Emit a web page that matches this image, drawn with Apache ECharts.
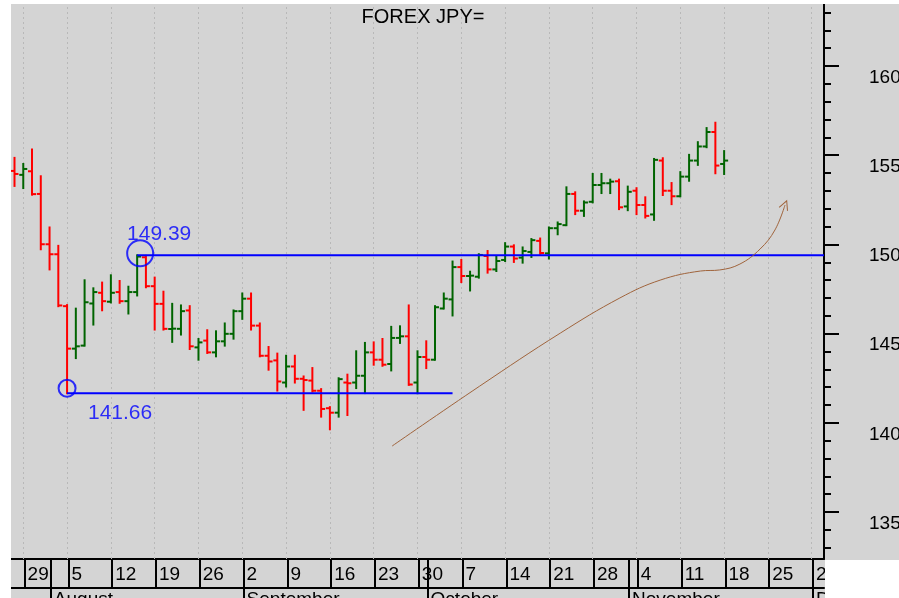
<!DOCTYPE html>
<html>
<head>
<meta charset="utf-8">
<script src="https://cdn.jsdelivr.net/npm/echarts@6/dist/echarts.min.js"></script>
<style>html,body{margin:0;padding:0;background:#fff}#c{width:899px;height:598px}</style>
</head>
<body>
<div id="c"></div>
<script>
// Trading days (index 0 = 2024-07-26, weekdays only)
var startDate = '2024-07-26';
var dayCount = 82;
// OHLC values
var opens  = [154.12,153.90,154.10,152.83,150.01,149.45,146.54,144.16,144.33,146.69,147.29,146.79,147.33,146.82,147.33,149.28,147.66,146.67,145.26,145.27,146.30,144.23,144.61,143.95,144.57,144.99,146.26,146.96,145.45,143.76,143.50,142.26,143.16,142.47,142.37,141.80,140.82,140.57,142.26,142.26,142.64,143.95,143.54,143.30,144.76,144.85,142.26,143.69,143.54,146.41,146.92,148.73,148.23,148.19,149.35,148.60,149.13,149.88,149.26,149.58,150.20,149.50,150.91,151.08,152.83,151.89,152.39,153.33,153.43,153.54,152.13,153.01,152.21,151.68,154.70,153.01,152.70,153.80,154.70,155.49,156.30,154.51];
var highs  = [154.85,154.51,155.32,153.82,150.95,149.92,146.60,146.40,147.99,147.54,147.86,148.27,147.95,147.63,149.39,149.36,148.14,147.35,146.67,146.58,146.54,144.70,145.19,145.13,145.57,146.30,147.25,147.25,145.57,144.25,143.88,143.76,143.76,142.60,143.07,141.89,140.88,142.50,142.70,144.01,144.48,144.51,144.70,145.38,145.41,146.58,144.01,144.57,146.54,147.25,149.04,149.13,148.47,149.45,149.63,149.35,150.07,149.95,149.83,150.30,150.33,150.95,151.23,153.20,152.92,152.41,153.95,153.95,153.63,153.63,153.24,153.15,152.64,154.79,154.83,153.44,154.05,155.02,155.73,156.52,156.82,155.23];
var lows   = [153.28,153.16,152.79,149.73,148.60,146.54,141.66,143.63,144.33,145.51,146.31,146.75,146.73,146.13,147.14,147.60,145.23,145.23,144.54,144.95,144.14,143.54,143.92,143.73,144.33,144.72,145.83,145.23,143.73,142.98,141.81,142.04,142.26,140.73,141.76,140.35,139.64,140.35,140.44,141.95,141.67,143.26,143.20,142.94,144.48,142.13,141.66,143.07,143.54,146.41,146.02,147.89,147.42,148.14,148.42,148.51,149.07,149.02,148.98,149.30,149.48,149.21,150.57,151.08,151.70,151.60,152.36,152.88,152.88,151.98,151.92,151.70,151.51,151.38,152.77,152.26,152.70,153.57,154.46,155.45,153.99,153.95];
var closes = [153.95,154.23,152.82,150.01,149.45,146.58,144.16,144.29,146.76,147.33,146.82,147.29,146.82,147.33,149.32,147.66,146.67,145.27,145.28,146.26,144.29,144.51,143.95,144.57,144.99,146.26,146.96,145.45,143.76,143.44,142.32,143.16,142.47,142.40,141.80,140.78,140.57,142.45,142.22,142.64,143.95,143.54,143.26,144.76,144.85,142.15,143.69,143.54,146.48,146.96,148.73,148.23,148.25,149.41,148.60,149.07,149.88,149.21,149.63,150.24,149.52,150.91,151.14,152.83,151.89,152.35,153.33,153.43,153.52,152.08,152.95,152.21,151.60,154.74,153.01,152.70,153.80,154.70,155.49,156.30,154.42,154.70];

// Axis labels
var weekIdx    = [1,6,11,16,21,26,31,36,41,46,51,56,61,66,71,76,81,86,91];
var weekLabels = ['29','5','12','19','26','2','9','16','23','30','7','14','21','28','4','11','18','25','2'];
var monthIdx    = [4,26,47,70,91];
var monthLabels = ['August','September','October','November','December'];
var yMajor = [135,140,145,150,155,160];
var yMinor = [133,134,136,137,138,139,141,142,143,144,146,147,148,149,151,152,153,154,156,157,158,159,161,162,163];

// Annotations
var levelValues = [149.39, 141.66];
var levelStart  = [14, 6];
var levelEnd    = [92.4, 50];
var trendIdx = [43.1,53.1,62.3,69.1,73.7,78.3,80.5,82.8,85.1,86.8,87.95];
var trendVal = [138.70,142.06,145.03,147.00,148.00,148.51,148.57,148.90,149.74,150.81,152.21];

// build category dates
var dates = [];
(function(){var d=new Date(startDate+'T12:00:00Z');while(dates.length<dayCount){var w=d.getUTCDay();if(w!==0&&w!==6)dates.push(d.toISOString().slice(0,10));d.setUTCDate(d.getUTCDate()+1);}})();

var ohlc = dates.map(function(dt,i){return [i,opens[i],highs[i],lows[i],closes[i]];});
var RED='#ff0000', GREEN='#006400', BLUE='#0000ff', BROWN='#a0643c';
var FONT='Arial, "Liberation Sans", sans-serif';
var XMIN=-0.4, XMAX=92.4, YMIN=132.37, YMAX=163.475;

function renderItem(params, api){
  var x=api.value(0),o=api.value(1),h=api.value(2),l=api.value(3),c=api.value(4);
  var pH=api.coord([x,h]),pL=api.coord([x,l]),pO=api.coord([x,o]),pC=api.coord([x,c]);
  var col=c>=o?GREEN:RED;
  var st={stroke:col,lineWidth:2};
  return {type:'group',children:[
    {type:'line',shape:{x1:pH[0],y1:pH[1]-1,x2:pL[0],y2:pL[1]+1},style:st},
    {type:'line',shape:{x1:pO[0]-4,y1:pO[1],x2:pO[0],y2:pO[1]},style:st},
    {type:'line',shape:{x1:pC[0],y1:pC[1],x2:pC[0]+4,y2:pC[1]},style:st}
  ]};
}

var trendData = trendIdx.map(function(v,i){return [v,trendVal[i]];});
var last = trendData.length-1;
trendData[last] = {value: trendData[last], symbol:'path://M0,10 L5,0 L10,10', symbolSize:[9,9], symbolRotate:-22,
  itemStyle:{color:'transparent',borderColor:BROWN,borderWidth:1}};

var chart = echarts.init(document.getElementById('c'), null, {renderer:'canvas'});
chart.setOption({
  animation:false,
  backgroundColor:'#d4d4d4',
  textStyle:{fontFamily:FONT},
  title:{text:'FOREX JPY=',left:418,top:2,textAlign:'center',textStyle:{fontFamily:FONT,fontSize:20,fontWeight:'normal',color:'#000'}},
  grid:{left:11,right:75,top:4,bottom:39,containLabel:false,outerBoundsMode:'none'},
  xAxis:[{
    type:'value',min:XMIN,max:XMAX,position:'bottom',
    axisLine:{show:true,onZero:false,lineStyle:{color:'#000',width:2}},
    axisTick:{show:true,inside:false,length:29,customValues:weekIdx.concat(monthIdx).map(function(v){return v+0.15;}),lineStyle:{color:'#000',width:2}},
    axisLabel:{show:true,customValues:weekIdx.map(function(v){return v+0.15;}),margin:6,align:'left',padding:[0,0,0,3],
      fontFamily:FONT,fontSize:19,color:'#000',
      formatter:function(v){var k=weekIdx.indexOf(Math.round(v-0.15));return k>=0?weekLabels[k]:'';}},
    splitLine:{show:false}
  },{
    type:'value',min:XMIN,max:XMAX,position:'bottom',offset:29,
    axisLine:{show:true,onZero:false,lineStyle:{color:'#000',width:2}},
    axisTick:{show:true,inside:false,length:14,customValues:monthIdx.map(function(v){return v+0.15;}),lineStyle:{color:'#000',width:2}},
    axisLabel:{show:true,customValues:monthIdx.map(function(v){return v+0.15;}),margin:2,align:'left',padding:[0,0,0,3],
      fontFamily:FONT,fontSize:19,color:'#000',
      formatter:function(v){var k=monthIdx.indexOf(Math.round(v-0.15));return k>=0?monthLabels[k]:'';}},
    splitLine:{show:false}
  }],
  yAxis:[{
    type:'value',min:YMIN,max:YMAX,position:'right',
    axisLine:{show:true,onZero:false,lineStyle:{color:'#000',width:2}},
    axisTick:{show:true,inside:false,length:15,customValues:yMajor,lineStyle:{color:'#000',width:2}},
    axisLabel:{show:true,customValues:yMajor,margin:45,align:'left',verticalAlign:'top',padding:[2,0,0,0],
      fontFamily:FONT,fontSize:19,color:'#000'},
    splitLine:{show:false}
  },{
    type:'value',min:YMIN,max:YMAX,position:'right',offset:0,
    axisLine:{show:false,onZero:false},
    axisTick:{show:true,inside:false,length:7,customValues:yMinor,lineStyle:{color:'#000',width:2}},
    axisLabel:{show:false},
    splitLine:{show:false}
  }],
  graphic:[
    {type:'rect',shape:{x:0,y:0,width:11,height:598},style:{fill:'#ffffff'},z:100,silent:true},
    {type:'rect',shape:{x:0,y:0,width:899,height:4},style:{fill:'#ffffff'},z:100,silent:true},
    {type:'rect',shape:{x:825,y:560,width:74,height:38},style:{fill:'#ffffff'},z:100,silent:true}
  ],
  series:[
    {type:'line',name:'grid',data:[],xAxisIndex:0,yAxisIndex:0,silent:true,
      markLine:{silent:true,symbol:['none','none'],label:{show:false},animation:false,
        lineStyle:{color:'#b8b8b8',width:1,type:[2,3]},
        data:weekIdx.map(function(v){return {xAxis:v};})}},
    {type:'custom',name:'JPY=',renderItem:renderItem,data:ohlc,encode:{x:0,y:[1,2,3,4]},z:5},
    {type:'line',name:'lvl1',data:[[levelStart[0],levelValues[0]],[levelEnd[0],levelValues[0]]],symbol:'none',
      lineStyle:{color:BLUE,width:2},z:6,silent:true},
    {type:'line',name:'lvl2',data:[[levelStart[1],levelValues[1]],[levelEnd[1],levelValues[1]]],symbol:'none',
      lineStyle:{color:BLUE,width:2},z:6,silent:true},
    {type:'scatter',name:'c1',data:[[levelStart[0],levelValues[0]]],symbol:'circle',symbolSize:26,symbolOffset:[3,-2],
      itemStyle:{color:'transparent',borderColor:BLUE,borderWidth:2},z:7,silent:true,
      label:{show:true,position:'top',distance:2,offset:[19,7],formatter:String(levelValues[0].toFixed(2)),
        fontFamily:FONT,fontSize:21,color:BLUE}},
    {type:'scatter',name:'c2',data:[[levelStart[1],levelValues[1]]],symbol:'circle',symbolSize:17,symbolOffset:[0,-5],
      itemStyle:{color:'transparent',borderColor:BLUE,borderWidth:2},z:7,silent:true,
      label:{show:true,position:'bottom',distance:4,offset:[53,1],formatter:String(levelValues[1].toFixed(2)),
        fontFamily:FONT,fontSize:21,color:BLUE}},
    {type:'line',name:'trend',data:trendData,smooth:0.4,symbol:'none',showSymbol:true,
      lineStyle:{color:BROWN,width:1},z:6,silent:true}
  ]
});
</script>
</body>
</html>
